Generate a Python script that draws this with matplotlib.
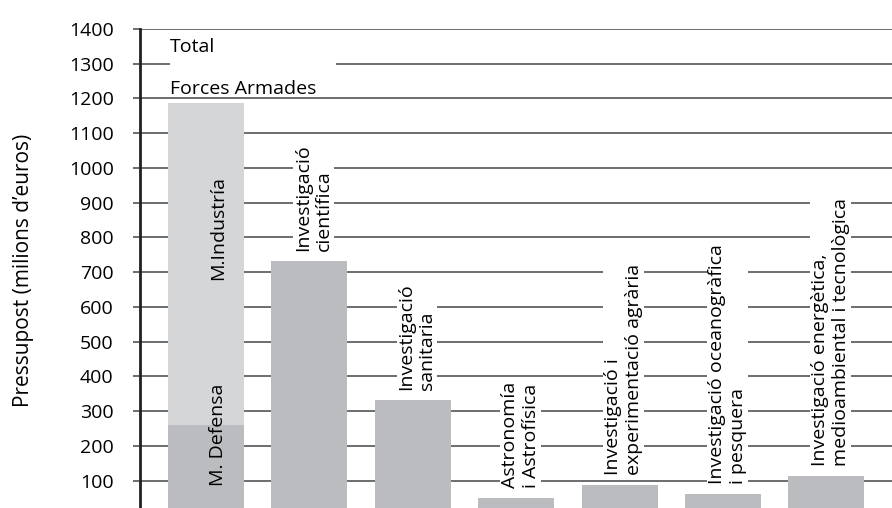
import matplotlib
matplotlib.use("Agg")
import matplotlib.pyplot as plt
from matplotlib.patches import Rectangle
import numpy as np

plt.rcParams["font.family"] = ["Open Sans", "DejaVu Sans"]

categories = [
    "Forces Armades",
    "Investigació\ncientífica",
    "Investigació\nsanitaria",
    "Astronomía\ni Astrofísica",
    "Investigació i\nexperimentació agrària",
    "Investigació oceanogràfica\ni pesquera",
    "Investigació energètica,\nmedioambiental i tecnològica",
]
totals = [1186, 732, 332, 51, 88, 62, 113]
defensa = 260
industria = totals[0] - defensa
yticks = list(range(0, 1500, 100))

DARK = "#bbbcbf"
LIGHT = "#d5d6d8"
GRID = "#6d6e70"
FS = 14

fig = plt.figure(figsize=(8.92, 5.08), dpi=100)
ax = fig.add_axes([140 / 892, 1 - 515.4 / 508, 752 / 892, (515.4 - 29) / 508])

x = np.arange(len(categories))
w = 0.735

# stacked first bar, then the single bars
ax.bar(x[0], defensa, width=w, color=DARK, zorder=2)
ax.bar(x[0], industria, bottom=defensa, width=w, color=LIGHT, zorder=2)
ax.bar(x[1:], totals[1:], width=w, color=DARK, zorder=2)

ax.text(x[0] + 0.12, 826, "M.Industría", rotation=90, ha="center", va="center",
        fontsize=FS, zorder=3)
ax.text(x[0] + 0.12, 233, "M. Defensa", rotation=90, ha="center", va="center",
        fontsize=FS, zorder=3)

for xi, val, lab in zip(x[1:], totals[1:], categories[1:]):
    ax.annotate(lab, (xi, val), xytext=(3, 7), textcoords="offset points",
                rotation=90, ha="center", va="bottom", multialignment="left",
                fontsize=FS, zorder=3,
                bbox=dict(boxstyle="square,pad=0.05", fc="white", ec="none"))

# legend-like labels at the top
ax.add_patch(Rectangle((0.0399, 1280), 0.2207, 40, transform=ax.get_yaxis_transform(),
                       fc="white", ec="none", zorder=1))
ax.text(0.0399, 1333, "Total", transform=ax.get_yaxis_transform(),
        va="baseline", fontsize=FS, zorder=3)
ax.text(0.0399, 1213, categories[0], transform=ax.get_yaxis_transform(),
        va="baseline", fontsize=FS, zorder=3)

ax.set_xlim(-0.638, 6.634)
ax.set_ylim(0, 1400)
ax.set_yticks(yticks)
ax.set_xticks([])
ax.tick_params(axis="y", length=5, width=1.4, color=GRID, pad=14, labelsize=FS)
ax.set_axisbelow(True)
ax.yaxis.grid(True, color=GRID, linewidth=1.4)
for s in ["top", "right", "bottom"]:
    ax.spines[s].set_visible(False)
ax.spines["left"].set_color("#231f20")
ax.spines["left"].set_linewidth(2.0)
ax.spines["left"].set_zorder(4)

fig.text(24 / 892, 1 - 270 / 508, "Pressupost (milions d\u2019euros)", rotation=90,
         ha="center", va="center", fontsize=15)

fig.savefig("out.png", dpi=100)
